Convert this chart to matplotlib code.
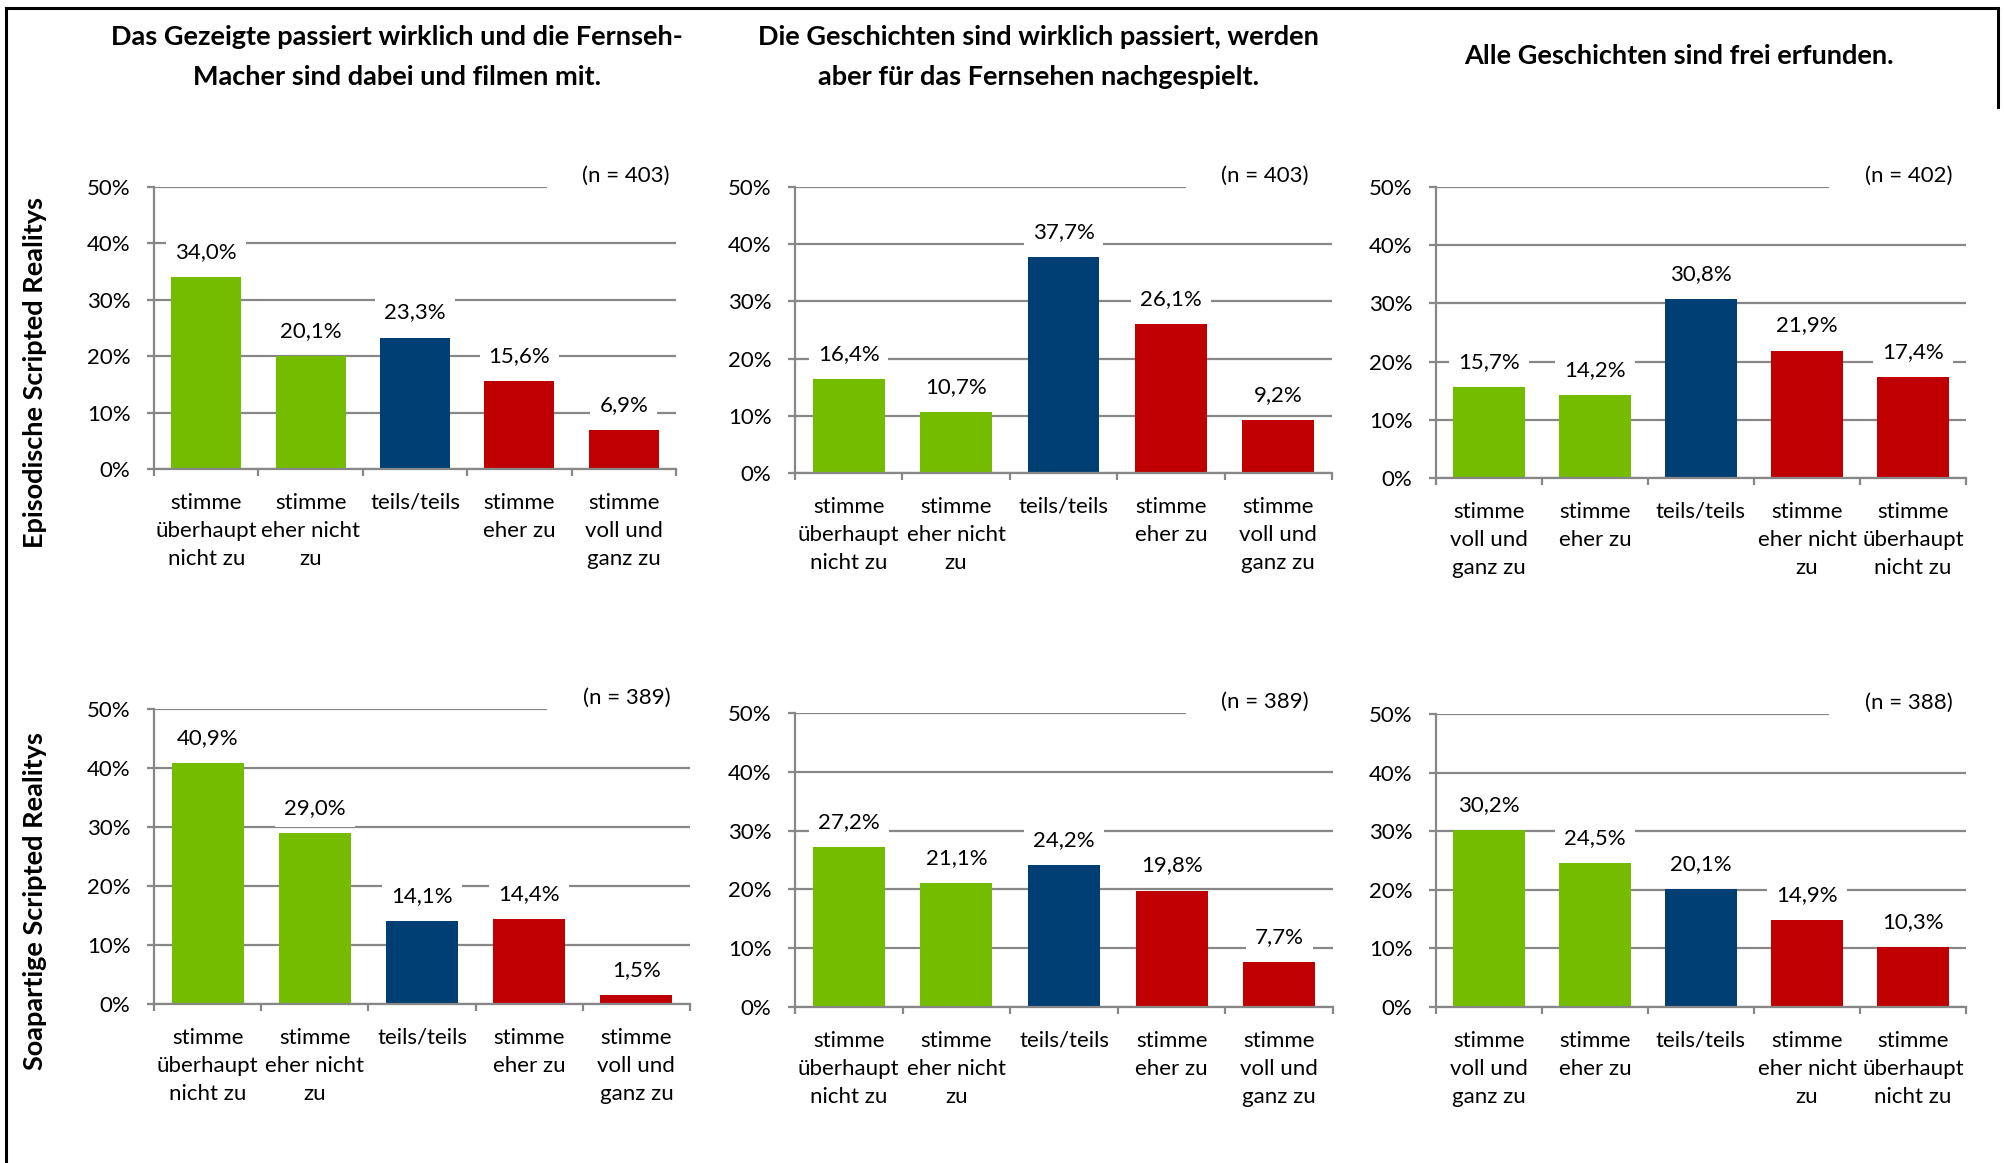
import matplotlib.pyplot as plt
from matplotlib.lines import Line2D

# categories (label order differs for the third column)
cats_a = ["stimme\nüberhaupt\nnicht zu", "stimme\neher nicht\nzu", "teils/teils",
          "stimme\neher zu", "stimme\nvoll und\nganz zu"]
cats_b = ["stimme\nvoll und\nganz zu", "stimme\neher zu", "teils/teils",
          "stimme\neher nicht\nzu", "stimme\nüberhaupt\nnicht zu"]

titles = ["Das Gezeigte passiert wirklich und die Fernseh-\nMacher sind dabei und filmen mit.",
          "Die Geschichten sind wirklich passiert, werden\naber für das Fernsehen nachgespielt.",
          "Alle Geschichten sind frei erfunden."]
row_labels = ["Episodische Scripted Realitys", "Soapartige Scripted Realitys"]

# values in percent
epi_real = [34.0, 20.1, 23.3, 15.6, 6.9]
epi_nach = [16.4, 10.7, 37.7, 26.1, 9.2]
epi_frei = [15.7, 14.2, 30.8, 21.9, 17.4]
soap_real = [40.9, 29.0, 14.1, 14.4, 1.5]
soap_nach = [27.2, 21.1, 24.2, 19.8, 7.7]
soap_frei = [30.2, 24.5, 20.1, 14.9, 10.3]
n_values = [403, 403, 402, 389, 389, 388]

GREEN, BLUE, RED = "#74BC00", "#003F74", "#C00000"
bar_colors = [GREEN, GREEN, BLUE, RED, RED]
GRID = "#878787"

W, H = 2004, 1163
plt.rcParams['font.family'] = ['Lato', 'DejaVu Sans']

fig = plt.figure(figsize=(W / 100, H / 100), dpi=100)


def rect(left, right, top, bottom):
    return [left / W, 1 - bottom / H, (right - left) / W, (bottom - top) / H]


# axes boxes in pixels: left, right, y of 50%, y of 0%
boxes = [(154, 676, 187, 469), (795, 1332, 187, 473), (1436, 1966, 187, 478),
         (154, 690, 709, 1004), (795, 1333, 713, 1007), (1436, 1966, 714, 1007)]
n_xpos = [0.988, 0.957, 0.974, 0.963, 0.955, 0.975]
panels = [(epi_real, cats_a), (epi_nach, cats_a), (epi_frei, cats_b),
          (soap_real, cats_a), (soap_nach, cats_a), (soap_frei, cats_b)]

FS = 16
for i, ((vals, cats), box) in enumerate(zip(panels, boxes)):
    ax = fig.add_axes(rect(*box))
    x = list(range(len(vals)))
    ax.bar(x, vals, width=0.67, color=bar_colors, zorder=2)
    ax.set_xlim(-0.5, 4.5)
    ax.set_ylim(0, 50)
    ax.set_yticks([0, 10, 20, 30, 40, 50])
    ax.set_yticklabels([f"{t}%" for t in range(0, 51, 10)], fontsize=FS)
    ax.yaxis.grid(True, color=GRID, lw=1.6)
    ax.set_axisbelow(True)
    for s in ['top', 'right']:
        ax.spines[s].set_visible(False)
    for s in ['left', 'bottom']:
        ax.spines[s].set_color(GRID)
        ax.spines[s].set_linewidth(1.6)
    ax.tick_params(axis='y', length=5, width=1.6, color=GRID, pad=12)
    ax.set_xticks([-0.5, 0.5, 1.5, 2.5, 3.5, 4.5])
    ax.set_xticklabels([])
    ax.tick_params(axis='x', which='major', length=5, width=1.6, color=GRID)
    ax.set_xticks(x, minor=True)
    ax.set_xticklabels(cats, minor=True, fontsize=FS)
    ax.tick_params(axis='x', which='minor', length=0, pad=17)
    for lbl in ax.get_xticklabels(minor=True):
        lbl.set_linespacing(1.52)
    for xi, v in zip(x, vals):
        ax.annotate(f"{v:.1f}%".replace('.', ','), (xi, v), xytext=(0, 18),
                    textcoords='offset points', ha='center', va='center',
                    fontsize=FS, zorder=4,
                    bbox=dict(boxstyle='square,pad=0.4', fc='white', ec='none'))
    # sample size, its white box cuts the 50% line
    ax.annotate(f"(n = {n_values[i]})", (n_xpos[i], 50), xycoords=ax.get_yaxis_transform(),
                xytext=(0, 8), textcoords='offset points', ha='right', va='center',
                fontsize=FS, zorder=4, annotation_clip=False,
                bbox=dict(boxstyle='square,pad=1.6', fc='white', ec='none'))

# column titles
title_pos = [(397, 37, 77), (1038, 37, 77), (1679, 56, None)]
for t, (cx, y1, y2) in zip(titles, title_pos):
    lines = t.split("\n")
    fig.text(cx / W, 1 - y1 / H, lines[0], ha='center', va='center',
             fontsize=19.5, fontweight='bold')
    if y2 is not None:
        fig.text(cx / W, 1 - y2 / H, lines[1], ha='center', va='center',
                 fontsize=19.5, fontweight='bold')

# row labels
for lab, cy in zip(row_labels, [372, 901]):
    fig.text(35 / W, 1 - cy / H, lab, rotation=90, ha='center', va='center',
             fontsize=19.5, fontweight='bold')

# frame lines
fig.add_artist(Line2D([6 / W, 1998 / W], [1 - 8 / H, 1 - 8 / H], color='black', lw=2.2))
fig.add_artist(Line2D([6 / W, 6 / W], [1 - 8 / H, 0], color='black', lw=2.2))
fig.add_artist(Line2D([1998 / W, 1998 / W], [1 - 8 / H, 1 - 107 / H], color='black', lw=2.2))

fig.savefig("out.png", dpi=100)
